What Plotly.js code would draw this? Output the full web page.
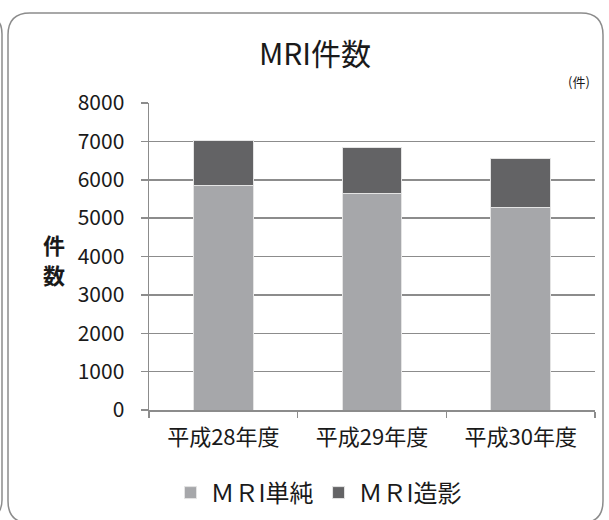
<!DOCTYPE html>
<html>
<head>
<meta charset="utf-8">
<script src="https://cdn.plot.ly/plotly-3.0.1.min.js"></script>
<style>html,body{margin:0;padding:0;background:#fff;}#chart{width:609px;height:520px;}</style>
</head>
<body>
<div id="chart"></div>
<script>
var categories = ["平成28年度", "平成29年度", "平成30年度"];
var simpleValues = [5840, 5650, 5265];
var contrastValues = [1190, 1185, 1285];
var seriesNames = ["ＭＲI単純", "ＭＲI造影"];
var yTicks = [0, 1000, 2000, 3000, 4000, 5000, 6000, 7000, 8000];

var W = 609, H = 520;
var L = 149, R = 595, T = 103, B = 410;
function px(x) { return (x - L) / (R - L); }
function py(y) { return (B - y) / (B - T); }
function roundRect(x0, y0, x1, y1, r) {
  var p = [];
  p.push("M" + px(x0 + r) + "," + py(y0));
  p.push("L" + px(x1 - r) + "," + py(y0));
  p.push("Q" + px(x1) + "," + py(y0) + " " + px(x1) + "," + py(y0 + r));
  p.push("L" + px(x1) + "," + py(y1 - r));
  p.push("Q" + px(x1) + "," + py(y1) + " " + px(x1 - r) + "," + py(y1));
  p.push("L" + px(x0 + r) + "," + py(y1));
  p.push("Q" + px(x0) + "," + py(y1) + " " + px(x0) + "," + py(y1 - r));
  p.push("L" + px(x0) + "," + py(y0 + r));
  p.push("Q" + px(x0) + "," + py(y0) + " " + px(x0 + r) + "," + py(y0));
  p.push("Z");
  return p.join(" ");
}
function outerEdge() {
  return "M" + px(-8) + "," + py(18) +
         " Q" + px(2) + "," + py(20) + " " + px(2) + "," + py(34) +
         " L" + px(2) + "," + py(500) +
         " Q" + px(2) + "," + py(512) + " " + px(-6) + "," + py(516);
}

var font = "'Noto Sans CJK JP', 'Noto Sans', sans-serif";
var txt = "#1a1a1a";

var traces = [
  {type: "bar", name: seriesNames[0], x: categories, y: simpleValues,
   marker: {color: "#a6a7aa", line: {color: "#e4e4e4", width: 1}}},
  {type: "bar", name: seriesNames[1], x: categories, y: contrastValues,
   marker: {color: "#636365", line: {color: "#e4e4e4", width: 1}}}
];

var layout = {
  width: W, height: H,
  margin: {l: L, r: W - R, t: T, b: H - B, pad: 0, autoexpand: false},
  paper_bgcolor: "#fff", plot_bgcolor: "#fff",
  barmode: "stack", bargap: 0.6,
  font: {family: font, color: txt},
  title: {text: "MRI件数", x: 315 / W, xref: "container", xanchor: "center",
          y: 1 - 54 / H, yref: "container", yanchor: "middle",
          font: {size: 30, family: font, color: txt}},
  xaxis: {
    showgrid: false, showline: true, linecolor: "#8c8c8c", linewidth: 1.5,
    ticks: "outside", ticklen: 6, tickcolor: "#8c8c8c", tickwidth: 1.5,
    tickson: "boundaries", ticklabelstandoff: 7, automargin: false,
    tickfont: {size: 22, family: font, color: txt}
  },
  yaxis: {
    range: [0, 8000], tickvals: yTicks, ticktext: yTicks.map(String),
    showgrid: true, gridcolor: "#8c8c8c", gridwidth: 1.5,
    showline: true, linecolor: "#8c8c8c", linewidth: 1.5,
    ticks: "outside", ticklen: 7, tickcolor: "#8c8c8c", tickwidth: 1.5,
    zeroline: false, ticklabelstandoff: 12, automargin: false,
    tickfont: {size: 21, family: font, color: txt}
  },
  legend: {orientation: "h", x: px(319), xref: "paper", xanchor: "center",
           y: py(493), yanchor: "middle",
           font: {size: 24, family: font, color: txt},
           itemwidth: 30, traceorder: "normal"},
  showlegend: true,
  annotations: [
    {text: "<b>件</b>", xref: "paper", yref: "paper",
     x: px(54), y: py(244), xanchor: "center", yanchor: "middle",
     showarrow: false, font: {size: 22, family: font, color: txt}},
    {text: "<b>数</b>", xref: "paper", yref: "paper",
     x: px(54), y: py(274), xanchor: "center", yanchor: "middle",
     showarrow: false, font: {size: 22, family: font, color: txt}},
    {text: "(件)", xref: "paper", yref: "paper",
     x: px(579), y: py(82), xanchor: "center", yanchor: "middle",
     showarrow: false, font: {size: 13, family: font, color: txt}}
  ],
  shapes: [
    {type: "path", xref: "paper", yref: "paper", path: roundRect(8, 13, 603, 523, 22),
     line: {color: "#8c8c8c", width: 1.5}, fillcolor: "rgba(0,0,0,0)", layer: "below"},
    {type: "path", xref: "paper", yref: "paper", path: outerEdge(),
     line: {color: "#8c8c8c", width: 1.5}}
  ]
};

Plotly.newPlot("chart", traces, layout, {displayModeBar: false, staticPlot: true});
</script>
</body>
</html>
